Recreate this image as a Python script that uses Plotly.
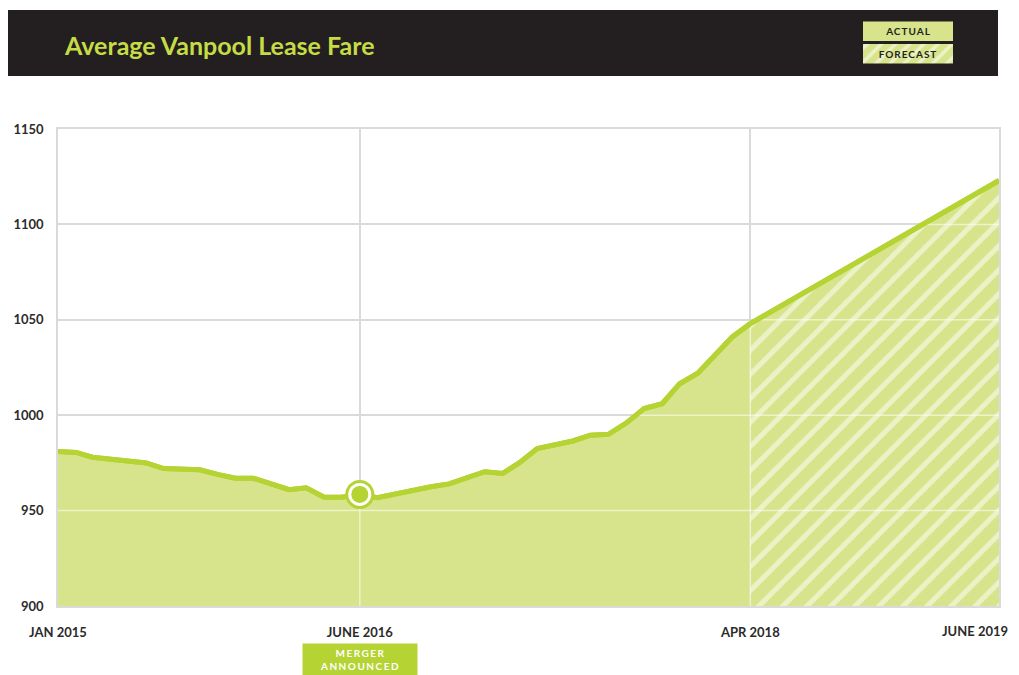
import numpy as np
import pandas as pd
import plotly.graph_objects as go

# ---------------- data ----------------
actual_dates = pd.date_range("2015-01-01", "2018-04-01", freq="MS")
actual_values = [981, 980.5, 978, 977, 976, 975, 972, 971.8, 971.4, 969,
                 967, 967, 964, 961, 962, 957, 957, 958.5, 956.7, 958.8,
                 961, 962.5, 964, 967, 970.4, 969.5, 975, 982.5, 984.5, 986.5,
                 989.5, 990, 996, 1003.5, 1006, 1016.5, 1022, 1032, 1041, 1048]
forecast_dates = ["2018-04-01", "2019-06-01"]
forecast_values = [1048, 1123]
event_date = "2016-06-01"
event_label = "MERGER<br>ANNOUNCED"
tick_dates = ["2015-01-01", "2016-06-01", "2018-04-01", "2019-06-01"]
tick_labels = ["JAN 2015", "JUNE 2016", "APR 2018", "JUNE 2019"]
y_ticks = [900, 950, 1000, 1050, 1100, 1150]
legend_items = ["FORECAST", "ACTUAL"]

# ---------------- style ----------------
LINE = "#b5d333"
FILL = "#d7e48c"
GRID = "#dadada"
DARK = "#231f20"
TITLE_C = "#c5dc44"
FONT = "Lato"

W, H = 1019.0, 675.0
OFF = 8.0  # page body margin
ML, MR = 58 - OFF, W - (999 - OFF)
PW = W - ML - MR

def px(p):
    return (p - OFF - ML) / PW

def py(p):
    return (H - (p - OFF)) / H

fig = go.Figure()

# actual area
fig.add_trace(go.Scatter(
    x=actual_dates, y=actual_values, mode="lines", fill="tozeroy",
    fillcolor=FILL, line=dict(color=LINE, width=5), hoverinfo="skip",
    showlegend=False))

# forecast area (striped)
fig.add_trace(go.Scatter(
    x=pd.to_datetime(forecast_dates), y=forecast_values, mode="lines", fill="tozeroy",
    fillcolor=FILL,
    fillpattern=dict(shape="/", fgcolor="white", fgopacity=0.5, bgcolor=FILL,
                     size=17, solidity=0.3, fillmode="overlay"),
    line=dict(color=LINE, width=5), hoverinfo="skip", showlegend=False))

# light gridlines over the filled area, derived from the data
all_t = np.concatenate([actual_dates.values.astype("datetime64[ms]").astype(np.int64),
                        pd.to_datetime(forecast_dates[1:]).values.astype("datetime64[ms]").astype(np.int64)])
all_v = np.array(list(actual_values) + list(forecast_values[1:]), dtype=float)
ov_x, ov_y = [], []
for lvl in y_ticks[1:-1]:
    start = None
    for i in range(len(all_v)):
        if all_v[i] >= lvl:
            if i == 0:
                start = all_t[0]
            else:
                f = (lvl - all_v[i - 1]) / (all_v[i] - all_v[i - 1])
                start = all_t[i - 1] + f * (all_t[i] - all_t[i - 1])
            break
    if start is not None:
        ov_x += [pd.to_datetime(start, unit="ms"), pd.to_datetime(all_t[-1], unit="ms"), None]
        ov_y += [lvl, lvl, None]
for d in tick_dates[1:3]:
    td = pd.Timestamp(d).value // 10**6
    v = float(np.interp(td, all_t, all_v))
    ov_x += [pd.Timestamp(d), pd.Timestamp(d), None]
    ov_y += [y_ticks[0], v - 2, None]
fig.add_trace(go.Scatter(x=ov_x, y=ov_y, mode="lines",
                         line=dict(color="rgba(255,255,255,0.55)", width=1.5),
                         hoverinfo="skip", showlegend=False))

# redraw lines on top so overlays don't cross them
fig.add_trace(go.Scatter(x=actual_dates, y=actual_values, mode="lines",
                         line=dict(color=LINE, width=5), hoverinfo="skip", showlegend=False))
fig.add_trace(go.Scatter(x=pd.to_datetime(forecast_dates), y=forecast_values, mode="lines",
                         line=dict(color=LINE, width=5), hoverinfo="skip", showlegend=False))

# event marker
ev_val = float(np.interp(pd.Timestamp(event_date).value // 10**6, all_t, all_v))
fig.add_trace(go.Scatter(x=[pd.Timestamp(event_date)], y=[ev_val], mode="markers",
                         marker=dict(size=29, color=LINE), hoverinfo="skip", showlegend=False))
fig.add_trace(go.Scatter(x=[pd.Timestamp(event_date)], y=[ev_val], mode="markers",
                         marker=dict(size=20, color=LINE, line=dict(color="white", width=3)),
                         hoverinfo="skip", showlegend=False))

# header legend as small bars on hidden axes
fig.add_trace(go.Bar(
    y=legend_items, x=[1, 1], orientation="h", xaxis="x2", yaxis="y2",
    text=['<span style="letter-spacing:1px">%s</span>' % s for s in legend_items],
    textposition="inside", insidetextanchor="middle",
    textfont=dict(family=FONT, size=10, color=DARK, weight="bold"),
    marker=dict(color=FILL, line=dict(width=0),
                pattern=dict(shape=["/", ""], fgcolor="white", fgopacity=0.5,
                             bgcolor=FILL, size=10, solidity=0.35, fillmode="overlay")),
    hoverinfo="skip", showlegend=False, width=0.86))

tickfont = dict(family=FONT, size=13, color="#2b2b2b", weight="bold")
fig.update_layout(
    width=W, height=H,
    margin=dict(l=ML, r=MR, t=0, b=0, autoexpand=False),
    paper_bgcolor="white", plot_bgcolor="white",
    font=dict(family=FONT, color="#333333"),
    xaxis=dict(type="date", range=["2015-01-01", "2019-06-01"],
               tickmode="array", tickvals=tick_dates,
               ticktext=tick_labels[:-1] + [""],
               tickfont=tickfont,
               showgrid=True, gridcolor=GRID, gridwidth=1.5,
               showline=True, linecolor=GRID, linewidth=1.5, mirror=True,
               ticks="", ticklabelstandoff=14, ticklabeloverflow="allow",
               zeroline=False, domain=[0, 1]),
    yaxis=dict(range=[900, 1150], tickvals=y_ticks,
               tickfont=tickfont,
               showgrid=True, gridcolor=GRID, gridwidth=1.5,
               showline=True, linecolor=GRID, linewidth=1.5, mirror=True,
               ticks="", ticklabelstandoff=10, ticklabeloverflow="allow",
               zeroline=False, domain=[py(606), py(129)]),
    xaxis2=dict(domain=[px(863), px(953)], range=[0, 1],
                visible=False, anchor="y2", fixedrange=True),
    yaxis2=dict(domain=[py(65), py(20)], visible=False, anchor="x2",
                categoryorder="array", categoryarray=legend_items,
                range=[-0.5, 1.5], fixedrange=True),
    shapes=[dict(type="rect", xref="paper", yref="paper",
                 x0=px(8), x1=px(998), y0=py(76), y1=min(py(10), 1.02),
                 fillcolor=DARK, line=dict(width=0), layer="below")],
    annotations=[
        dict(text="Average Vanpool Lease Fare", xref="paper", yref="paper",
             x=px(62), y=py(45), xanchor="left", yanchor="middle",
             showarrow=False, font=dict(family=FONT, size=25, color=TITLE_C, weight="bold")),
        dict(text='<span style="letter-spacing:1.5px">%s</span>' % event_label,
             x=pd.Timestamp(event_date), xref="x", yref="paper", y=py(643),
             xanchor="center", yanchor="top", showarrow=False, align="center",
             bgcolor=LINE, width=108, borderpad=3,
             font=dict(family=FONT, size=10, color="white", weight="bold")),
        dict(text=tick_labels[-1], x=px(1010), y=py(631), xref="paper", yref="paper",
             xanchor="right", yanchor="middle", showarrow=False, font=tickfont),
    ],
)

fig.write_html("out.html")
